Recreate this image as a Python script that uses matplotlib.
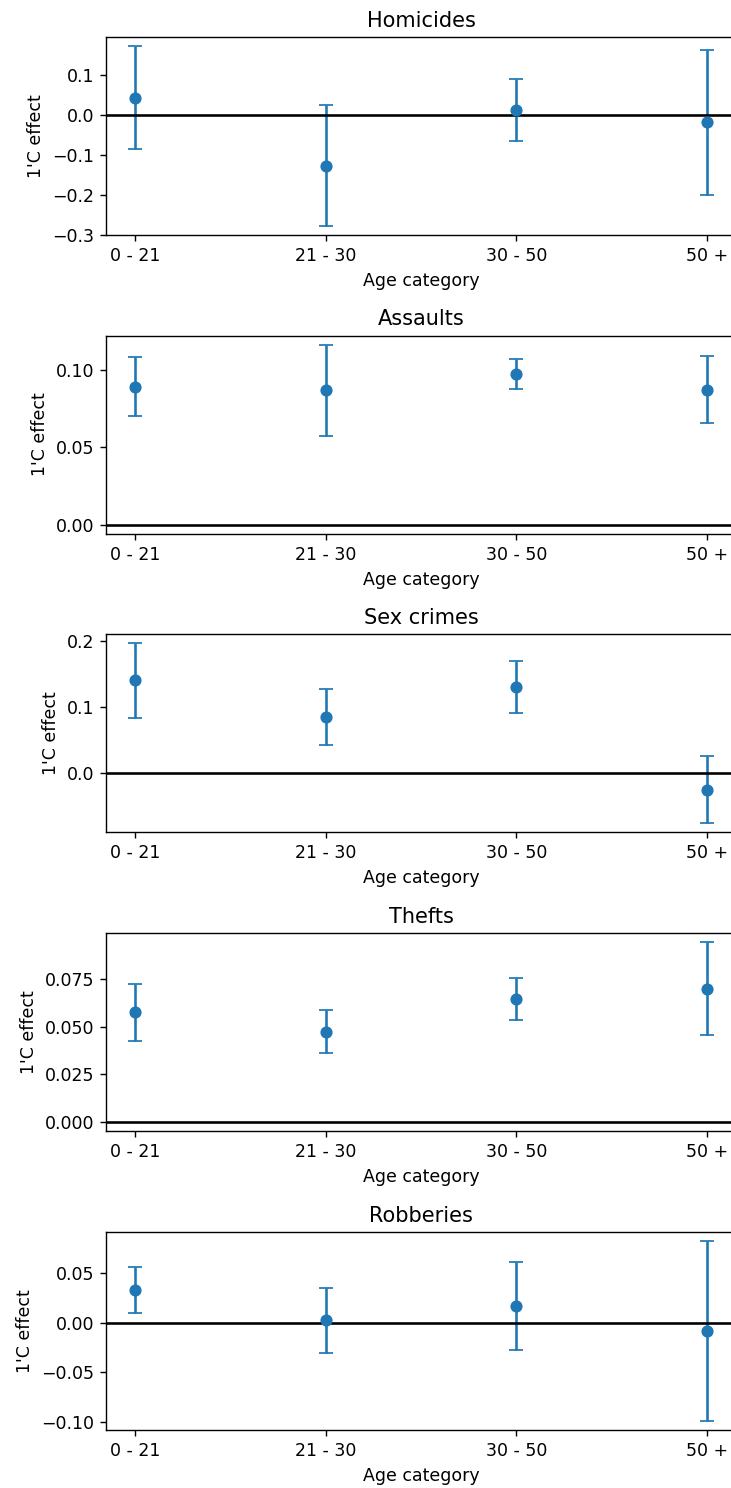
import numpy as np
import matplotlib
matplotlib.use("Agg")
import matplotlib.pyplot as plt

# ============================================================
# Data
# ============================================================

age_categories = ["0 - 21", "21 - 30", "30 - 50", "50 +"]

crime_types = ["Homicides", "Assaults", "Sex crimes", "Thefts", "Robberies"]

homicides_effect = [0.043, -0.127, 0.012, -0.019]
homicides_err = [0.129, 0.151, 0.078, 0.181]

assaults_effect = [0.0893, 0.0870, 0.0975, 0.0873]
assaults_err = [0.0189, 0.0295, 0.0097, 0.0215]

sex_crimes_effect = [0.1405, 0.0842, 0.1310, -0.0262]
sex_crimes_err = [0.0567, 0.0426, 0.0396, 0.0510]

thefts_effect = [0.0575, 0.0475, 0.0646, 0.0699]
thefts_err = [0.0149, 0.0113, 0.0112, 0.0244]

robberies_effect = [0.0328, 0.0024, 0.0168, -0.0085]
robberies_err = [0.0228, 0.0330, 0.0440, 0.0905]

effects = [homicides_effect, assaults_effect, sex_crimes_effect,
           thefts_effect, robberies_effect]
errors = [homicides_err, assaults_err, sex_crimes_err,
          thefts_err, robberies_err]

# ============================================================
# Plotting
# ============================================================

W, H = 731, 1488
DPI = 125
fig, axes = plt.subplots(5, 1, figsize=(W / DPI, H / DPI), dpi=DPI)

x = np.arange(len(age_categories))

# axes geometry in pixels (right edge runs past the figure, as in the original)
left_px, right_px = 106.4, 735.6
tops_px = [37, 335.5, 634.3, 933.2, 1232.2]
height_px = 198

for ax, name, eff, err, top in zip(axes, crime_types, effects, errors, tops_px):
    ax.errorbar(x, eff, yerr=err, fmt="o", capsize=4)
    ax.axhline(0, color="black")
    ax.set_xticks(x)
    ax.set_xticklabels(age_categories)
    ax.set_xlabel("Age category")
    ax.set_ylabel("1'C effect")
    ax.set_title(name)
    ax.set_position([left_px / W, 1 - (top + height_px) / H,
                     (right_px - left_px) / W, height_px / H])

fig.savefig("out.png", dpi=DPI)
plt.close(fig)
